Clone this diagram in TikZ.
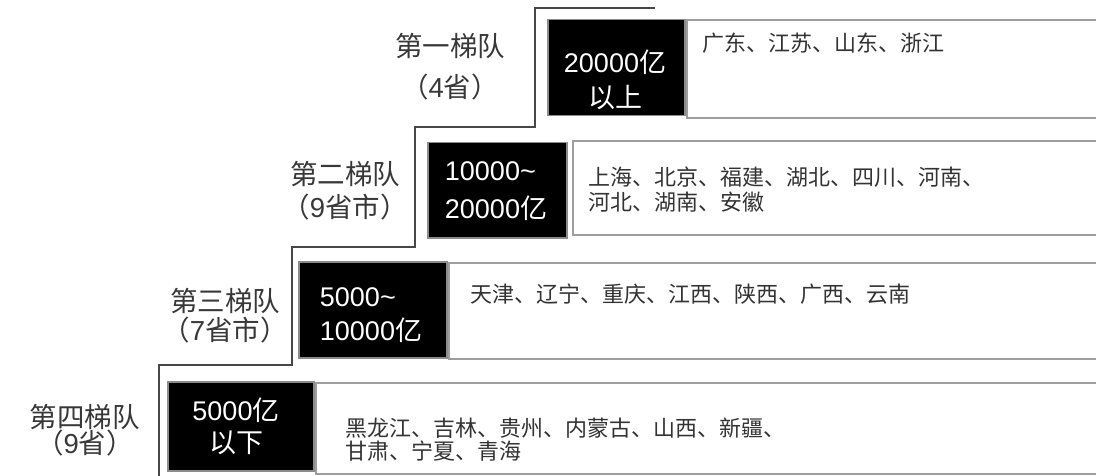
\documentclass[tikz,border=0pt]{standalone}
\usepackage{fontspec}
\setmainfont{Liberation Sans}
\newfontfamily\cjk{Noto Sans CJK SC}
\begin{document}
\begin{tikzpicture}[x=1pt,y=-1pt,
  blk/.style={draw=black!45, line width=1.5pt, fill=black, anchor=north west, inner sep=0pt},
  wht/.style={draw=black!38, line width=2pt, fill=white, anchor=north west, inner sep=0pt},
  lbl/.style={text=black!78, align=center, inner sep=0pt},
  num/.style={text=white, inner sep=0pt},
  prov/.style={text=black!80, align=left, anchor=west, inner sep=0pt},
  stair/.style={draw=black!72, line width=1.3pt}]
\useasboundingbox (0,0) rectangle (1096,476);
\fill[white] (0,0) rectangle (1096,476);
\clip (0,0) rectangle (1096,476);

% staircase outline
\draw[stair] (159,480) -- (159,365) -- (292,365) -- (292,247) -- (415,247)
  -- (415,127) -- (535,127) -- (535,8) -- (655,8);

% white boxes
\node[wht, minimum width=420pt, minimum height=98pt] (w1) at (686,19) {};
\node[wht, minimum width=540pt, minimum height=94pt] (w2) at (572,140) {};
\node[wht, minimum width=660pt, minimum height=96pt] (w3) at (448,262) {};
\node[wht, minimum width=790pt, minimum height=91pt] (w4) at (315,382) {};

% black boxes
\node[blk, minimum width=137pt, minimum height=96pt] (b1) at (547,19) {};
\node[blk, minimum width=139pt, minimum height=95pt] (b2) at (427,142) {};
\node[blk, minimum width=148pt, minimum height=96pt] (b3) at (298,261) {};
\node[blk, minimum width=146pt, minimum height=89pt] (b4) at (167,381) {};

% texts in black boxes
\node[num, align=center, font=\fontsize{27}{35}\selectfont] (t1) at (615,80)
  {20000{\cjk 亿}\\{\cjk 以上}};
\node[num, align=left, font=\fontsize{27}{38}\selectfont] (t2) at (496,191)
  {10000\textasciitilde\\20000{\cjk 亿}};
\node[num, align=left, font=\fontsize{27}{34}\selectfont] (t3) at (371,315)
  {5000\textasciitilde\\10000{\cjk 亿}};
\node[num, align=center, font=\fontsize{27}{32}\selectfont] (t4) at (236,426)
  {5000{\cjk 亿}\\{\cjk 以下}};

% tier labels
\node[lbl, font=\fontsize{27.5}{41}\selectfont] (l1) at (450,67)
  {{\cjk 第一梯队}\\{\cjk （}4{\cjk 省）}};
\node[lbl, font=\fontsize{27.5}{33}\selectfont] (l2) at (345,191)
  {{\cjk 第二梯队}\\{\cjk （}9{\cjk 省市）}};
\node[lbl, font=\fontsize{27.5}{29}\selectfont] (l3) at (225,316)
  {{\cjk 第三梯队}\\{\cjk （}7{\cjk 省市）}};
\node[lbl, font=\fontsize{27.5}{26}\selectfont] (l4) at (85,430)
  {{\cjk 第四梯队}\\{\cjk （}9{\cjk 省）}};

% province lists
\node[prov, font=\cjk\fontsize{22}{25}\selectfont] (p1) at (702,43)
  {广东、江苏、山东、浙江};
\node[prov, font=\cjk\fontsize{22}{25}\selectfont] (p2) at (588,190)
  {上海、北京、福建、湖北、四川、河南、\\河北、湖南、安徽};
\node[prov, font=\cjk\fontsize{22}{25}\selectfont] (p3) at (470,294)
  {天津、辽宁、重庆、江西、陕西、广西、云南};
\node[prov, font=\cjk\fontsize{22}{23}\selectfont] (p4) at (345,440)
  {黑龙江、吉林、贵州、内蒙古、山西、新疆、\\甘肃、宁夏、青海};
\end{tikzpicture}
\end{document}
